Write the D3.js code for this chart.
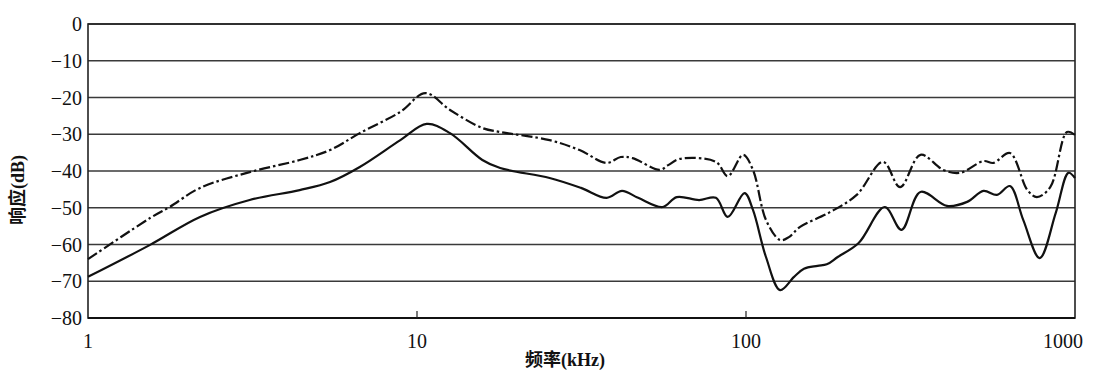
<!DOCTYPE html>
<html><head><meta charset="utf-8">
<script src="https://cdn.jsdelivr.net/npm/d3@7"></script>
<style>body{margin:0;background:#fff}svg{display:block}
.tk{font-family:"Liberation Serif","Times New Roman",Times,serif;}
.ttl{font-family:"Liberation Serif","Noto Sans CJK SC",serif;}
</style>
</head><body><svg id="c" width="1093" height="371"></svg>
<script>
const freqDash = [1,1.544,1.77,2.19,3.1,4.4,5.44,6.7,8.9,10.6,12.6,15.8,17.9,25.3,31.2,37.7,41.6,45.2,54.7,58,63,81,88,98,105,115,127,135,146,180,217,261,294,339,398,447,527,565,634,717,766,841,945,1000];
const respDash = [-64,-52.8,-49.8,-44.6,-40.3,-37,-34.3,-29.7,-23.9,-18.8,-23.4,-28.3,-29.4,-31.6,-34.3,-37.8,-36.2,-36.5,-39.7,-38.4,-36.7,-37.5,-41.4,-35.6,-39.7,-53.3,-58.8,-58,-55.2,-51.2,-46.5,-37.5,-44.4,-35.6,-39.7,-40.5,-37.3,-37.8,-35.1,-45.2,-47.1,-44.4,-29.4,-30.2];
const freqSolid = [1,1.544,2.19,3.1,4.4,5.44,6.7,8.9,10.7,12.6,15.8,17.9,25.3,31.5,37.7,42,47,55.8,61.6,72,81,88,99,105,115,127,140,150,165,176,190,220,264,297,339,408,470,527,579,634,696,781,874,955,1000];
const respSolid = [-68.8,-60.1,-52.5,-47.9,-45.2,-43,-38.9,-31.6,-27.2,-29.7,-37,-39.2,-41.9,-44.6,-47.3,-45.4,-47.3,-49.8,-47.1,-47.9,-47.3,-52.5,-46,-50.6,-63.4,-72.4,-68.8,-66.6,-65.8,-65.4,-63.4,-59.6,-49.8,-56,-45.7,-49.5,-48.4,-45.4,-46.5,-44.1,-53.3,-63.7,-51.4,-40.5,-41.9];
const yTicks = [0,-10,-20,-30,-40,-50,-60,-70,-80];
const xTicks = [1,10,100,1000];

const svg = d3.select("#c");
const L=88,R=1075,T=24,B=318;
const x = d3.scaleLog().domain([1,1000]).range([L,R]);
const y = d3.scaleLinear().domain([-80,0]).range([B,T]);

svg.append("g").selectAll("line").data(yTicks).join("line")
  .attr("x1",L).attr("x2",R).attr("y1",d=>y(d)).attr("y2",d=>y(d))
  .attr("stroke","#3a3a3a").attr("stroke-width",1.4);
svg.append("rect").attr("x",L).attr("y",T).attr("width",R-L).attr("height",B-T)
  .attr("fill","none").attr("stroke","#222").attr("stroke-width",1.6);
svg.append("line").attr("x1",L).attr("x2",R).attr("y1",B).attr("y2",B).attr("stroke","#111").attr("stroke-width",2.2);
svg.append("g").selectAll("line").data([10,100]).join("line")
  .attr("x1",d=>x(d)).attr("x2",d=>x(d)).attr("y1",B).attr("y2",B-7)
  .attr("stroke","#222").attr("stroke-width",1.2);

svg.append("g").selectAll("text").data(yTicks).join("text").attr("class","tk")
  .attr("x",L-6).attr("y",d=>y(d)).attr("dy","0.35em").attr("text-anchor","end")
  .attr("font-size",20).attr("fill","#111")
  .text(d=>d===0?"0":"\u2212"+Math.abs(d));
svg.append("g").selectAll("text").data(xTicks).join("text").attr("class","tk")
  .attr("x",d=>d===1000?x(d)-12:x(d)).attr("y",B+30).attr("text-anchor","middle")
  .attr("font-size",20).attr("fill","#111")
  .text(d=>d);
svg.append("text").attr("class","ttl").attr("x",565).attr("y",366).attr("text-anchor","middle")
  .attr("font-size",18).attr("font-weight","bold").attr("fill","#111")
  .text("频率(kHz)");
svg.append("text").attr("class","ttl").attr("transform","translate(24,190) rotate(-90)").attr("text-anchor","middle")
  .attr("font-size",18).attr("font-weight","bold").attr("fill","#111")
  .text("响应(dB)");

const line = d3.line().x(d=>x(d[0])).y(d=>y(d[1])).curve(d3.curveCatmullRom.alpha(0.5));
svg.append("path").datum(d3.zip(freqDash,respDash)).attr("d",line)
  .attr("fill","none").attr("stroke","#111").attr("stroke-width",2.2)
  .attr("stroke-dasharray","11,3,2.5,3");
svg.append("path").datum(d3.zip(freqSolid,respSolid)).attr("d",line)
  .attr("fill","none").attr("stroke","#111").attr("stroke-width",2.2);
</script></body></html>
